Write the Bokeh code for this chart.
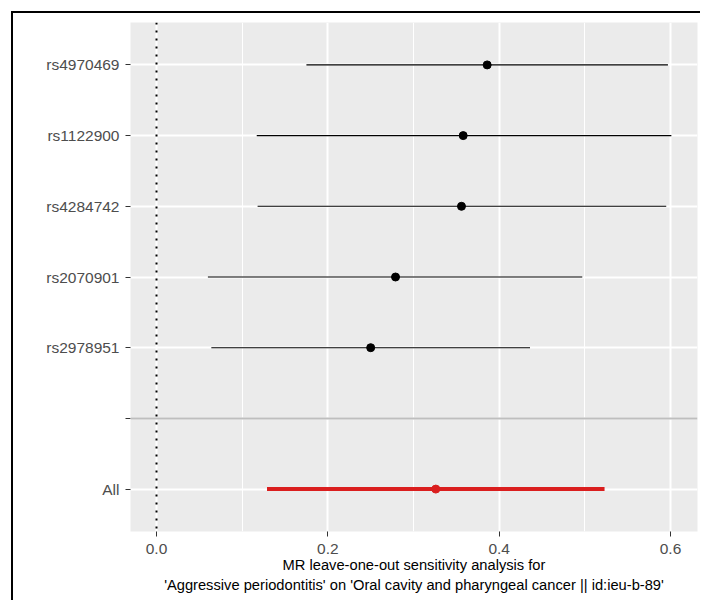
from bokeh.plotting import figure
from bokeh.models import Range1d, FixedTicker, Span, ColumnDataSource, InlineStyleSheet
from bokeh.embed import file_html
from bokeh.resources import INLINE

# ---- data ----
snp_labels = ["All", "", "rs2978951", "rs2070901", "rs4284742", "rs1122900", "rs4970469"]
snp_b = [0.326, None, 0.250, 0.279, 0.356, 0.358, 0.386]
snp_lo = [0.129, None, 0.064, 0.060, 0.118, 0.117, 0.175]
snp_up = [0.523, None, 0.436, 0.497, 0.595, 0.601, 0.597]
x_ticks = [0.0, 0.2, 0.4, 0.6]
x_minor = [0.1, 0.3, 0.5]
null_effect = 0.0
title_lines = ["MR leave-one-out sensitivity analysis for",
               "'Aggressive periodontitis' on 'Oral cavity and pharyngeal cancer || id:ieu-b-89'"]

FONT = "Liberation Sans"
positions = list(range(1, len(snp_labels) + 1))

single = dict(x0=[], x1=[], y=[], b=[])
total = dict(x0=[], x1=[], y=[], b=[])
for lab, pos, b, lo, up in zip(snp_labels, positions, snp_b, snp_lo, snp_up):
    if b is None:
        continue
    d = total if lab == "All" else single
    d["x0"].append(lo); d["x1"].append(up); d["y"].append(pos); d["b"].append(b)

p = figure(width=700, height=600, output_backend="svg", toolbar_location=None,
           x_range=Range1d(-0.03035, 0.6315), y_range=Range1d(0.4, 7.6),
           min_border_left=130, min_border_right=3, min_border_top=22, min_border_bottom=69)
p.stylesheets = [InlineStyleSheet(css="""
:host { position: relative; }
:host::after { content: ""; position: absolute; left: 11px; top: 11px; right: 0; bottom: 0;
  border-left: 2px solid black; border-top: 2px solid black;
  pointer-events: none; z-index: 100; }
""")]
p.background_fill_color = "#EBEBEB"
p.border_fill_color = "white"
p.outline_line_color = None

# grids
p.xgrid.ticker = FixedTicker(ticks=x_ticks, minor_ticks=x_minor)
p.xgrid.grid_line_color = "white"
p.xgrid.grid_line_width = 2
p.xgrid.minor_grid_line_color = "white"
p.xgrid.minor_grid_line_width = 1
p.ygrid.ticker = FixedTicker(ticks=positions)
p.ygrid.grid_line_color = "white"
p.ygrid.grid_line_width = 2

# axes
p.xaxis.ticker = FixedTicker(ticks=x_ticks)
p.xaxis.major_label_overrides = {t: f"{t:.1f}" for t in x_ticks}
p.yaxis.ticker = FixedTicker(ticks=positions)
p.yaxis.major_label_overrides = {pos: lab for pos, lab in zip(positions, snp_labels)}
for ax in (p.xaxis[0], p.yaxis[0]):
    ax.axis_line_color = None
    ax.major_tick_line_color = "#333333"
    ax.major_tick_line_width = 1
    ax.major_tick_in = 0
    ax.major_tick_out = 5
    ax.minor_tick_line_color = None
    ax.major_label_text_font = FONT
    ax.major_label_text_font_size = "15.5px"
    ax.major_label_text_color = "#4D4D4D"
p.xaxis.major_label_standoff = 7
p.yaxis.major_label_standoff = 6

# axis title: two centred lines
p.xaxis.axis_label = "\n".join(title_lines)
p.xaxis.axis_label_text_font = FONT
p.xaxis.axis_label_text_font_size = "14.7px"
p.xaxis.axis_label_text_font_style = "normal"
p.xaxis.axis_label_text_color = "black"
p.xaxis.axis_label_text_line_height = 1.3
p.xaxis.axis_label_standoff = 0

# reference lines
p.add_layout(Span(location=null_effect, dimension="height", line_color="black",
                  line_width=2, line_dash="2 6"))
blank_pos = positions[snp_labels.index("")]
p.add_layout(Span(location=blank_pos, dimension="width", line_color="#BEBEBE", line_width=2))

# error bars and points
s1 = ColumnDataSource(single)
s2 = ColumnDataSource(total)
p.segment(x0="x0", y0="y", x1="x1", y1="y", source=s1, line_color="black", line_width=1.1)
p.scatter(x="b", y="y", source=s1, size=8, fill_color="black", line_color="black")
p.segment(x0="x0", y0="y", x1="x1", y1="y", source=s2, line_color="#DA1E1E", line_width=4)
p.scatter(x="b", y="y", source=s2, size=8, fill_color="#DA1E1E", line_color="#DA1E1E")

open("out.html", "w").write(file_html(p, INLINE))
